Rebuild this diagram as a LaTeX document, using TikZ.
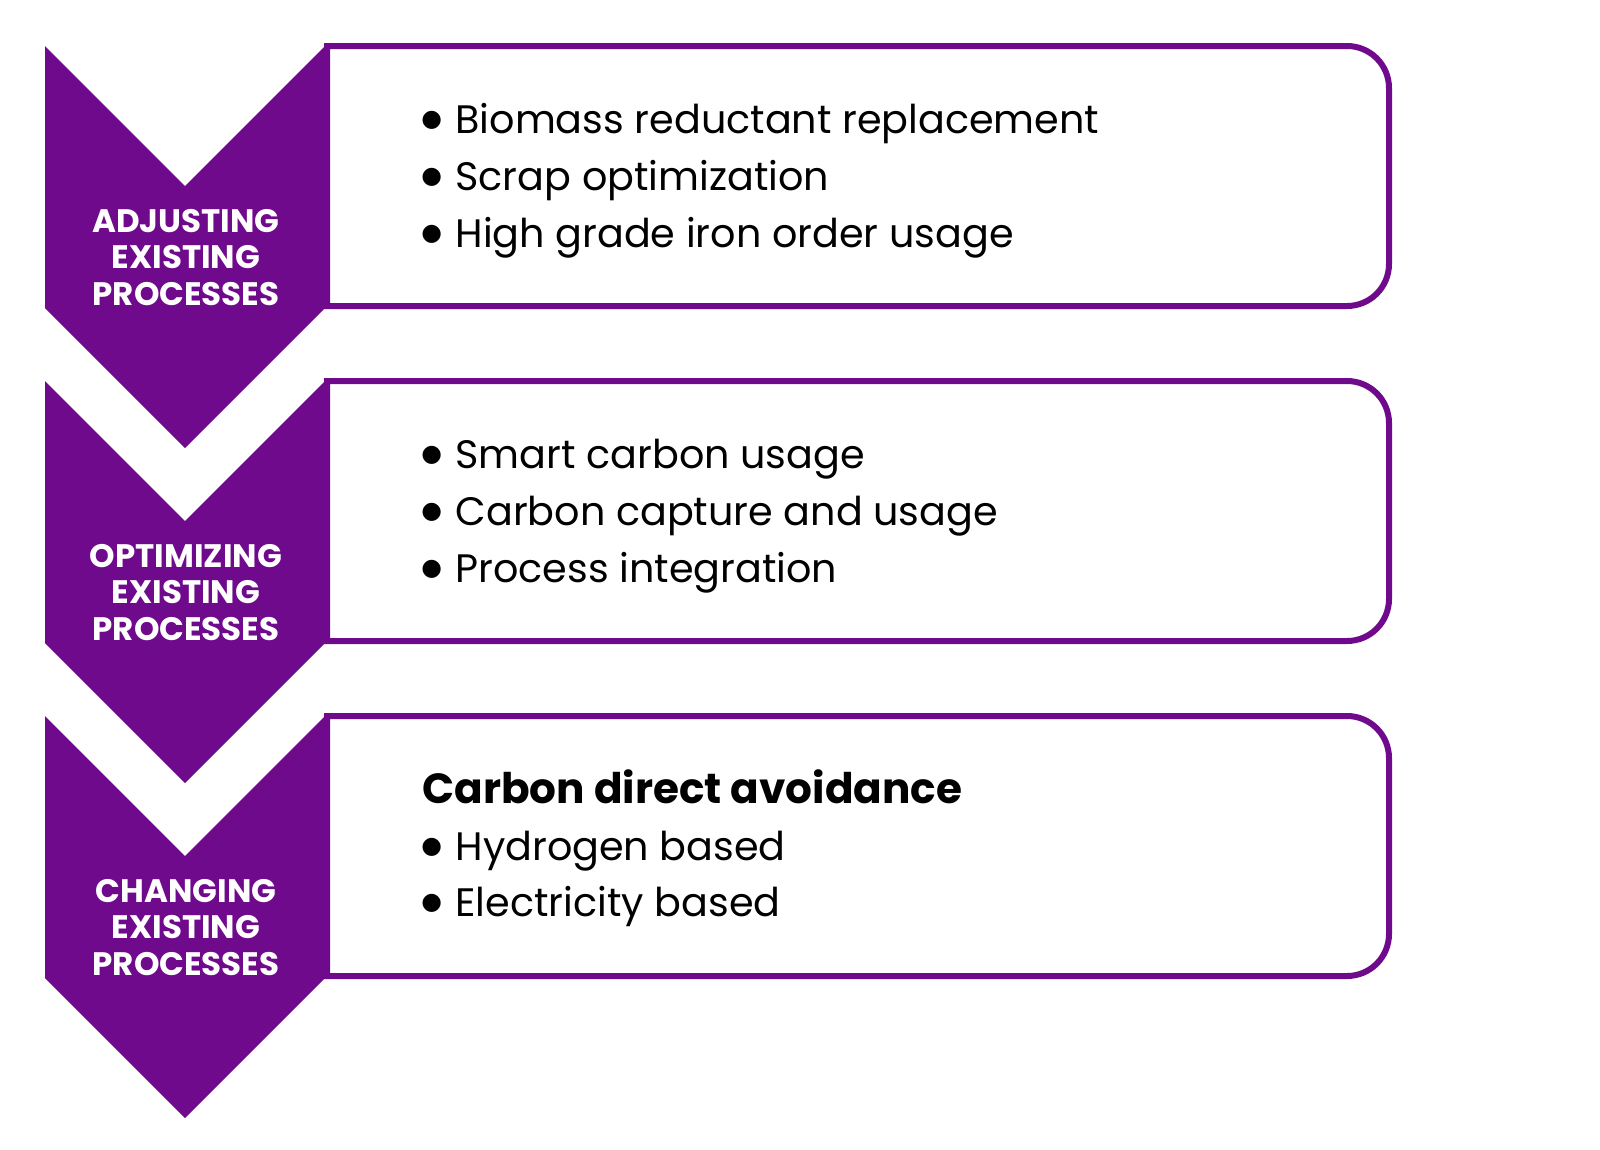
\documentclass[tikz,border=0pt]{standalone}
\usepackage{fontspec}
\setmainfont{Poppins}
\newfontfamily\bulletfont{DejaVu Sans}
\definecolor{stagepurple}{RGB}{111,10,140}
\newcommand{\itembullet}{\raisebox{3.6pt}{\bulletfont\fontsize{13.5}{14}\selectfont ●}\hspace{0.34em}}

\begin{document}
\begin{tikzpicture}[x=0.02cm, y=0.02cm,
		chevron/.style={fill=stagepurple, draw=none},
		frame/.style={draw=stagepurple, line width=0.12cm},
		stagelabel/.style={anchor=base, inner sep=0pt, text=white, font=\fontsize{18.5}{22}\selectfont\bfseries},
		item/.style={anchor=base west, inner sep=0pt, font=\fontsize{22.6}{30}\selectfont},
		heading/.style={anchor=base west, inner sep=0pt, font=\fontsize{24}{32}\selectfont\bfseries}]
	\useasboundingbox (0,0) rectangle (1600,-1150);
	
	\foreach \t/\verb [count=\r] in {46/ADJUSTING, 381/OPTIMIZING, 716/CHANGING}{
		% chevron
		\fill [chevron] (45,-\t) -- (185,-\t-140) -- (325,-\t) -- (325,-\t-262)
			-- (185,-\t-402) -- (45,-\t-262) -- cycle;
		% box, rounded on the right only
		\draw [frame] (327,-\t) -- (1347,-\t) arc[start angle=90, end angle=0, radius=42]
			-- (1389,-\t-218) arc[start angle=0, end angle=-90, radius=42] -- (327,-\t-260) -- cycle;
		\node [stagelabel] (L\r a) at (186,-\t-186) {\verb};
		\node [stagelabel] (L\r b) at (186,-\t-222) {EXISTING};
		\node [stagelabel] (L\r c) at (186,-\t-259) {PROCESSES};}
	
	\node [item] (A1) at (421,-133) {\itembullet Biomass reductant replacement};
	\node [item] (A2) at (421,-190) {\itembullet Scrap optimization};
	\node [item] (A3) at (421,-247) {\itembullet High grade iron order usage};
	
	\node [item] (B1) at (421,-468) {\itembullet Smart carbon usage};
	\node [item] (B2) at (421,-525) {\itembullet Carbon capture and usage};
	\node [item] (B3) at (421,-582) {\itembullet Process integration};
	
	\node [heading] (C0) at (422,-803) {Carbon direct avoidance};
	\node [item] (C1) at (421,-860) {\itembullet Hydrogen based};
	\node [item] (C2) at (421,-916) {\itembullet Electricity based};
\end{tikzpicture}
\end{document}
